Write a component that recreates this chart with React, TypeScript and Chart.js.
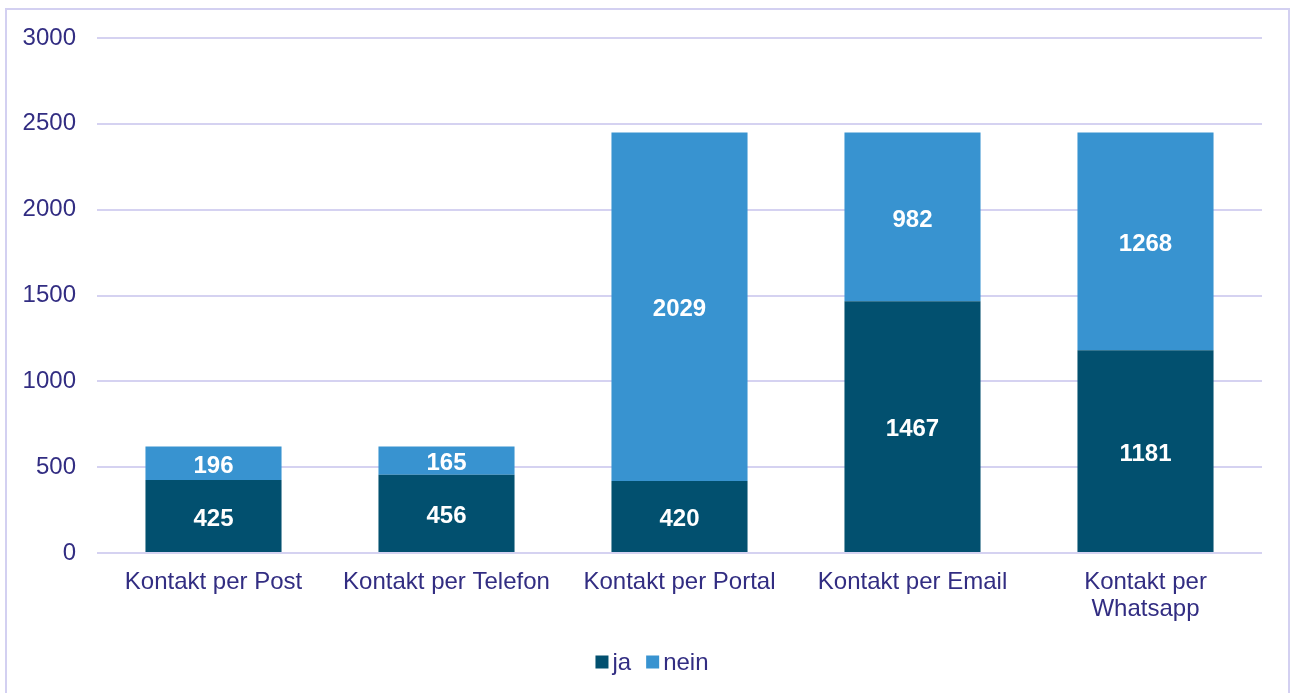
import React, { useEffect, useRef } from "react";
import { Chart, registerables } from "chart.js";

Chart.register(...registerables);

const categories: (string | string[])[] = [
  "Kontakt per Post",
  "Kontakt per Telefon",
  "Kontakt per Portal",
  "Kontakt per Email",
  ["Kontakt per", "Whatsapp"],
];
const seriesNames = ["ja", "nein"];
const jaValues = [425, 456, 420, 1467, 1181];
const neinValues = [196, 165, 2029, 982, 1268];
const yMin = 0;
const yMax = 3000;
const yStep = 500;

const FONT = "'Liberation Sans', Arial, sans-serif";
const TEXT_COLOR = "#322d82";
const GRID_COLOR = "#d5d2f1";
const FRAME_COLOR = "#d3d0f1";
const COLOR_JA = "#02506f";
const COLOR_NEIN = "#3893d0";

const frame = {
  id: "frame",
  beforeDraw(chart: any) {
    const ctx = chart.ctx;
    ctx.save();
    ctx.fillStyle = "#ffffff";
    ctx.fillRect(0, 0, chart.width, chart.height);
    ctx.strokeStyle = FRAME_COLOR;
    ctx.lineWidth = 2;
    ctx.strokeRect(6, 9, 1283, 700);
    ctx.restore();
  },
};

const valueLabels = {
  id: "valueLabels",
  afterDatasetsDraw(chart: any) {
    const ctx = chart.ctx;
    ctx.save();
    ctx.font = `bold 24px ${FONT}`;
    ctx.fillStyle = "#ffffff";
    ctx.textAlign = "center";
    ctx.textBaseline = "middle";
    chart.data.datasets.forEach((ds: any, di: number) => {
      const meta = chart.getDatasetMeta(di);
      meta.data.forEach((el: any, i: number) => {
        const p = el.getProps(["x", "y", "base"], true);
        ctx.fillText(String(ds.data[i]), p.x, (p.y + p.base) / 2 + 3);
      });
    });
    ctx.restore();
  },
};

const customLegend = {
  id: "customLegend",
  afterDraw(chart: any) {
    const ctx = chart.ctx;
    ctx.save();
    ctx.font = `24px ${FONT}`;
    ctx.textBaseline = "middle";
    ctx.textAlign = "left";
    const box = 13;
    const gapText = 4;
    const gapItem = 15;
    const items = chart.data.datasets.map((ds: any) => ({
      text: ds.label,
      color: ds.backgroundColor,
      w: box + gapText + ctx.measureText(ds.label).width,
    }));
    const total = items.reduce((s: number, it: any) => s + it.w, 0) + gapItem * (items.length - 1);
    let x = 652 - total / 2;
    const cy = 662;
    items.forEach((it: any) => {
      ctx.fillStyle = it.color;
      ctx.fillRect(x, cy - box / 2, box, box);
      ctx.fillStyle = TEXT_COLOR;
      ctx.fillText(it.text, x + box + gapText, cy + 1);
      x += it.w + gapItem;
    });
    ctx.restore();
  },
};

export default function App() {
  const ref = useRef<HTMLCanvasElement>(null);
  useEffect(() => {
    const prevMargin = document.body.style.margin;
    document.body.style.margin = "0";
    const chart = new Chart(ref.current!, {
      type: "bar",
      data: {
        labels: categories as any,
        datasets: [
          { label: seriesNames[0], data: jaValues, backgroundColor: COLOR_JA, barPercentage: 0.584, categoryPercentage: 1 },
          { label: seriesNames[1], data: neinValues, backgroundColor: COLOR_NEIN, barPercentage: 0.584, categoryPercentage: 1 },
        ],
      },
      options: {
        animation: false,
        responsive: false,
        maintainAspectRatio: false,
        layout: { padding: { top: 38, right: 29, bottom: 53, left: 0 } },
        plugins: { legend: { display: false }, tooltip: { enabled: false } },
        scales: {
          x: {
            stacked: true,
            grid: { display: false, drawTicks: false },
            border: { display: false },
            ticks: {
              color: TEXT_COLOR,
              font: { family: FONT, size: 24, lineHeight: 1.12 },
              padding: 16,
              maxRotation: 0,
              autoSkip: false,
            },
            afterFit: (s: any) => { s.height = 87; },
          },
          y: {
            stacked: true,
            min: yMin,
            max: yMax,
            grid: { color: GRID_COLOR, lineWidth: 2, drawTicks: false },
            border: { display: false },
            ticks: {
              stepSize: yStep,
              color: TEXT_COLOR,
              font: { family: FONT, size: 24 },
              padding: 21,
              callback: (v: any) => String(v),
            },
            afterFit: (s: any) => { s.width = 97; },
          },
        },
      },
      plugins: [frame, valueLabels, customLegend],
    });
    return () => {
      chart.destroy();
      document.body.style.margin = prevMargin;
    };
  }, []);
  return (
    <div style={{ width: 1291, height: 693, overflow: "hidden" }}>
      <canvas ref={ref} width={1291} height={693} style={{ display: "block", width: 1291, height: 693 }} />
    </div>
  );
}
